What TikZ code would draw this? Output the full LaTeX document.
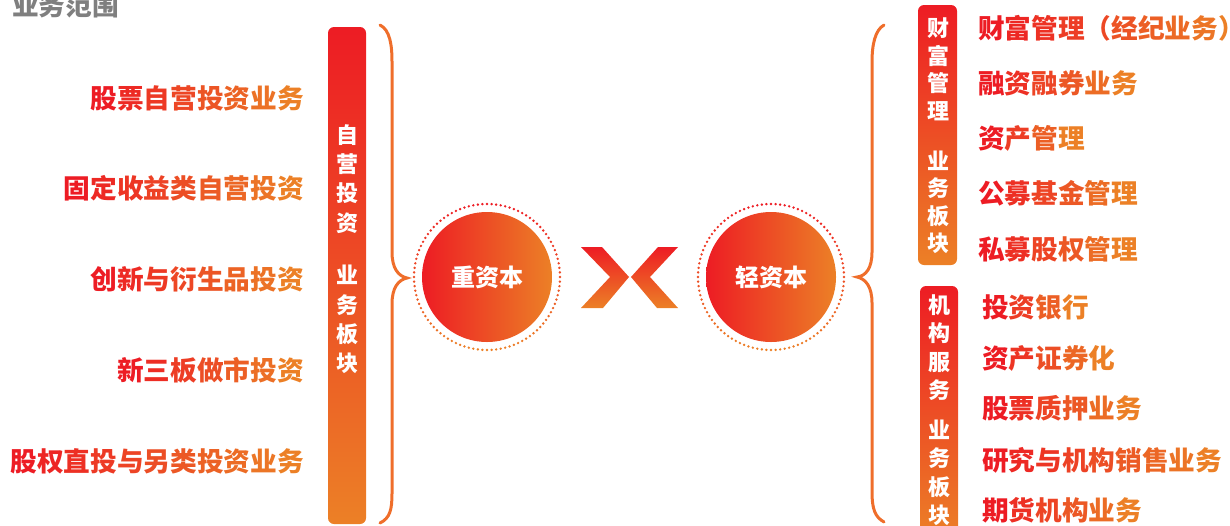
\documentclass[tikz,border=0pt]{standalone}
\usepackage{fontspec}
\setmainfont{Noto Sans CJK SC}
\usetikzlibrary{positioning}

\definecolor{cred}{HTML}{ED1C24}
\definecolor{corange}{HTML}{EC8026}
\definecolor{cbrace}{HTML}{EF6E2B}
\definecolor{cgray}{HTML}{7F7F7F}

\newcount\gradn \newcount\gradi
\def\gradcount#1{\ifx#1\relax\else\advance\gradn by 1 \expandafter\gradcount\fi}
\def\gradput#1{\ifx#1\relax\else
  \pgfmathsetmacro\gradp{100-100*\the\gradi/max(\the\gradn-1,1)}%
  \textcolor{cred!\gradp!corange}{#1}\advance\gradi by 1 \expandafter\gradput\fi}
\newcommand\gradtext[1]{\gradn=0 \gradi=0 \gradcount#1\relax\gradput#1\relax}

\tikzset{
  item/.style={inner sep=0pt, font=\fontsize{20}{24}\selectfont\bfseries},
  bar/.style={rounded corners=4.5pt, top color=cred, bottom color=corange, inner sep=0pt},
  bartext/.style={text=white, align=center, inner sep=0pt, font=\fontsize{16.5}{#1}\selectfont\bfseries},
  ball/.style={circle, left color=cred, right color=corange, minimum size=97.5pt, inner sep=0pt,
    text=white, font=\fontsize{18}{22}\selectfont\bfseries},
  brace/.style={cbrace, line width=2.25pt, line cap=round},
  cross/.style={top color=cred, bottom color=corange}
}

\begin{document}
\begin{tikzpicture}[x=0.75pt, y=-0.75pt]
    \useasboundingbox (0,0) rectangle (1230,525);

    \node[anchor=west, inner sep=0pt, text=cgray, font=\fontsize{20}{24}\selectfont\bfseries] (title) at (12,5) {业务范围};

    \node[item, anchor=east] (stock)  at (304,98)  {\gradtext{股票自营投资业务}};
    \node[item, anchor=east] (fixed)  at (304,188) {\gradtext{固定收益类自营投资}};
    \node[item, anchor=east] (deriv)  at (304,279) {\gradtext{创新与衍生品投资}};
    \node[item, anchor=east] (neeq)   at (304,370) {\gradtext{新三板做市投资}};
    \node[item, anchor=east] (equity) at (304,461) {\gradtext{股权直投与另类投资业务}};

    \node[bar, minimum width=28.5pt, minimum height=372.75pt] (selfbar) at (347,275.5) {};
    \node[bartext=22pt] (selftext) at (347,249) {自\\营\\投\\资\\[17.5pt]业\\务\\板\\块};

    \draw[brace] (380,25) .. controls (390,30) and (392,45) .. (392,62) -- (392,252)
      .. controls (392,268) and (398,276) .. (407,278) .. controls (398,280) and (392,288) .. (392,304)
      -- (392,493) .. controls (392,510) and (390,518) .. (380,523);

    \node[ball] (heavy) at (487,277) {重资本};
    \node[ball] (light) at (771,277) {轻资本};
    \foreach \i in {0,...,99} {
      \pgfmathsetmacro\mix{50-50*sin(\i*3.6)}
      \fill[cred!\mix!corange] (heavy) ++(\i*3.6:73) circle[radius=1pt];
      \fill[cred!\mix!corange] (light) ++(\i*3.6:73) circle[radius=1pt];
    }

    \shade[cross] (581,247) -- (602,247) -- (629,277) -- (603,308) -- (581,308) -- (610,277) -- cycle;
    \shade[cross] (678,247) -- (658,247) -- (631,277) -- (657,308) -- (678,308) -- (650,277) -- cycle;

    \draw[brace] (884,25) .. controls (875,30) and (872,45) .. (872,62) -- (872,252)
      .. controls (872,268) and (866,276) .. (857,277) .. controls (866,279) and (872,287) .. (872,303)
      -- (872,492) .. controls (872,509) and (875,517) .. (884,522);

    \node[bar, minimum width=29.25pt, minimum height=195pt] (wealthbar) at (937.5,135) {};
    \node[bartext=20.6pt] (wealthtext) at (938,136) {财\\富\\管\\理\\[16.9pt]业\\务\\板\\块};
    \node[bar, minimum width=28.5pt, minimum height=190.5pt] (instbar) at (939,413) {};
    \node[bartext=21.3pt] (insttext) at (939,410) {机\\构\\服\\务\\[8.5pt]业\\务\\板\\块};

    \node[item, anchor=west] (brokerage) at (978,28)  {\gradtext{财富管理（经纪业务）}};
    \node[item, anchor=west] (margin)    at (978,83)  {\gradtext{融资融券业务}};
    \node[item, anchor=west] (asset)     at (978,138) {\gradtext{资产管理}};
    \node[item, anchor=west] (fund)      at (978,193) {\gradtext{公募基金管理}};
    \node[item, anchor=west] (pe)        at (978,249) {\gradtext{私募股权管理}};

    \node[item, anchor=west] (ib)        at (982,307) {\gradtext{投资银行}};
    \node[item, anchor=west] (abs)       at (982,358) {\gradtext{资产证券化}};
    \node[item, anchor=west] (pledge)    at (982,408) {\gradtext{股票质押业务}};
    \node[item, anchor=west] (research)  at (982,460) {\gradtext{研究与机构销售业务}};
    \node[item, anchor=west] (futures)   at (982,510) {\gradtext{期货机构业务}};
\end{tikzpicture}
\end{document}
